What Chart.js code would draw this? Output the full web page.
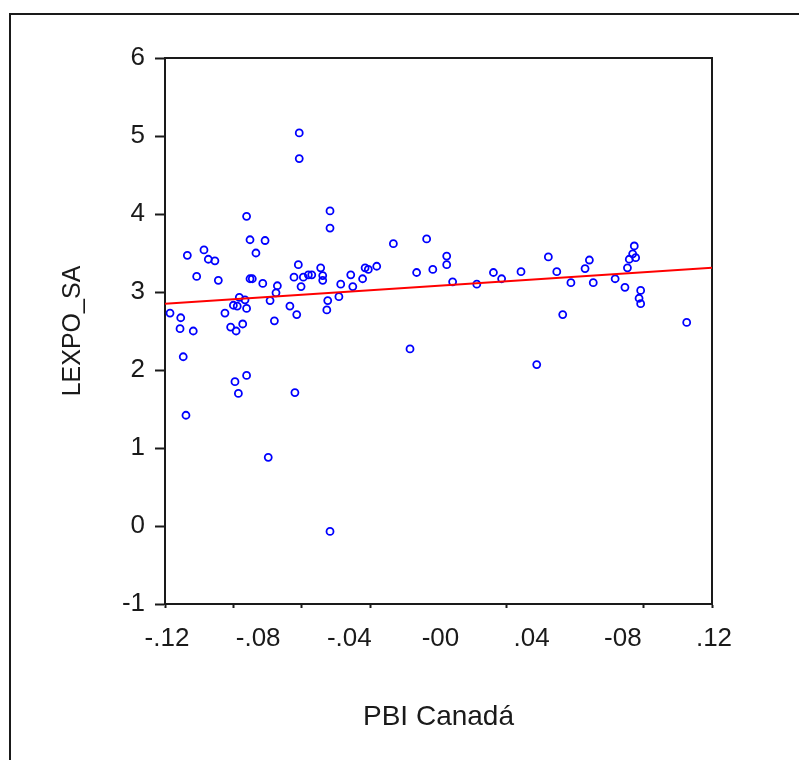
<!DOCTYPE html>
<html>
<head>
<meta charset="utf-8">
<script src="https://cdn.jsdelivr.net/npm/chart.js@4.4.1/dist/chart.umd.min.js"></script>
<style>
  body { margin: 0; background: #fff; }
</style>
</head>
<body>
<canvas id="scatter" width="799" height="760"></canvas>
<script>
// PBI Canadá (x) against LEXPO_SA (y)
const pbiCanada = [
  -0.0842, -0.0476, -0.0476, -0.0827, -0.0761, -0.1102, -0.1029, -0.1010, -0.0981, -0.0801,
  -0.1061, -0.0966, -0.0827, -0.0817, -0.0771, -0.0615, -0.0634, -0.0593, -0.0571, -0.0556,
  -0.0517, -0.0508, -0.0508, -0.0603, -0.0707, -0.0713, -0.0385, -0.0429, -0.0376, -0.0333,
  -0.0322, -0.0308, -0.0874, -0.0849, -0.0739, -0.0437, -0.0486, -0.0490, -0.1178, -0.1131,
  -0.0900, -0.0883, -0.0842, -0.0937, -0.0652, -0.0622, -0.1134, -0.1076, -0.0912, -0.0888,
  -0.0859, -0.0720, -0.1120, -0.0842, -0.0893, -0.0878, -0.0630, -0.1108, -0.0747, -0.0476,
  -0.0611, -0.0611, -0.0198, -0.0052, -0.0271, -0.0096, -0.0025, 0.0036, 0.0036, 0.0062,
  0.0168, 0.0241, 0.0277, 0.0362, 0.0482, 0.0519, 0.0545, 0.0581, -0.0125, 0.0431,
  0.0662, 0.0643, 0.0679, 0.0775, 0.0818, 0.0829, 0.0837, 0.0852, 0.0859, 0.0865,
  0.0887, 0.0880, 0.0887, 0.1089
];
const lexpoSA = [
  3.97, 4.04, 3.82, 3.67, 3.66, 3.47, 3.54, 3.42, 3.40, 3.50,
  3.20, 3.15, 3.17, 3.17, 3.11, 3.35, 3.19, 3.19, 3.22, 3.22,
  3.31, 3.21, 3.15, 3.07, 3.08, 2.99, 3.22, 3.10, 3.07, 3.17,
  3.31, 3.29, 2.93, 2.90, 2.89, 2.94, 2.89, 2.77, 2.73, 2.67,
  2.83, 2.82, 2.79, 2.73, 2.82, 2.71, 2.53, 2.50, 2.55, 2.50,
  2.59, 2.63, 2.17, 1.93, 1.85, 1.70, 1.71, 1.42, 0.88, -0.07,
  5.04, 4.71, 3.62, 3.68, 3.33, 3.25, 3.29, 3.46, 3.35, 3.13,
  3.10, 3.25, 3.17, 3.26, 3.45, 3.26, 2.71, 3.12, 2.27, 2.07,
  3.41, 3.30, 3.12, 3.17, 3.06, 3.31, 3.42, 3.49, 3.59, 3.44,
  3.02, 2.92, 2.85, 2.61
];

// fitted line, ends of the x range
const fitX = [-0.12, 0.12];
const fitY = [2.85, 3.31];

// x axis: small tick marks where the picture shows them, labels every .04 (text as printed)
const xMarkValues = [-0.12, -0.09, -0.06, -0.03, 0.03, 0.09, 0.12];
const xLabelValues = [-0.12, -0.08, -0.04, 0, 0.04, 0.08, 0.12];
const xLabelText = ['-.12', '-.08', '-.04', '-00', '.04', '-08', '.12'];

const near = (a, b) => Math.abs(a - b) < 1e-9;
const ink = '#1a1a1a';

const framePlugin = {
  id: 'frame',
  beforeDraw(chart) {
    const c = chart.ctx;
    c.save();
    c.fillStyle = '#fff';
    c.fillRect(0, 0, chart.width, chart.height);
    c.fillStyle = ink;
    c.fillRect(9, 13, 2, chart.height - 13);
    c.fillRect(9, 13, chart.width - 9, 2);
    c.restore();
  },
  beforeDatasetsDraw(chart) {
    const a = chart.chartArea;
    const c = chart.ctx;
    c.save();
    c.strokeStyle = ink;
    c.lineWidth = 2;
    c.strokeRect(a.left, a.top, a.right - a.left, a.bottom - a.top);
    c.restore();
  }
};

new Chart(document.getElementById('scatter'), {
  type: 'scatter',
  data: {
    datasets: [{
      label: 'LEXPO_SA',
      data: pbiCanada.map((x, i) => ({ x: x, y: lexpoSA[i] })),
      pointStyle: 'circle',
      pointRadius: 3.5,
      borderWidth: 1.8,
      borderColor: '#0000ff',
      backgroundColor: 'rgba(0,0,0,0)',
      order: 1
    }, {
      type: 'line',
      label: 'fit',
      data: fitX.map((x, i) => ({ x: x, y: fitY[i] })),
      borderColor: '#ff0000',
      borderWidth: 2,
      pointRadius: 0,
      fill: false,
      order: 0
    }]
  },
  options: {
    responsive: false,
    animation: false,
    events: [],
    layout: { padding: { left: 40, top: 58, right: 87, bottom: 0 } },
    plugins: {
      legend: { display: false },
      tooltip: { enabled: false }
    },
    scales: {
      x: {
        type: 'linear',
        min: -0.12,
        max: 0.12,
        afterBuildTicks: s => {
          const vals = xMarkValues.concat(xLabelValues.filter(v => !xMarkValues.some(m => near(m, v))));
          vals.sort((a, b) => a - b);
          s.ticks = vals.map(v => ({ value: v }));
        },
        afterFit: s => { s.height = 156; },
        grid: {
          drawOnChartArea: false,
          tickLength: 4,
          tickWidth: 2,
          tickColor: ctx => (ctx.tick && xMarkValues.some(m => near(m, ctx.tick.value))) ? ink : 'rgba(0,0,0,0)'
        },
        border: { display: true, color: ink, width: 2 },
        ticks: {
          autoSkip: false,
          maxRotation: 0,
          padding: 15,
          labelOffset: 2,
          color: ink,
          font: { family: 'Liberation Sans, Arial, sans-serif', size: 26 },
          callback: v => {
            const i = xLabelValues.findIndex(l => near(l, v));
            return i >= 0 ? xLabelText[i] : '';
          }
        },
        title: {
          display: true,
          text: 'PBI Canadá',
          color: ink,
          font: { family: 'Liberation Sans, Arial, sans-serif', size: 28 },
          padding: { top: 0, bottom: 26 }
        }
      },
      y: {
        min: -1,
        max: 6,
        afterFit: s => { s.width = 125; },
        grid: {
          drawOnChartArea: false,
          tickLength: 10,
          tickWidth: 2,
          tickColor: ink
        },
        border: { display: true, color: ink, width: 2 },
        ticks: {
          stepSize: 1,
          padding: 10,
          color: ink,
          font: { family: 'Liberation Sans, Arial, sans-serif', size: 26 }
        },
        title: {
          display: true,
          text: 'LEXPO_SA',
          color: ink,
          font: { family: 'Liberation Sans, Arial, sans-serif', size: 25 },
          padding: { top: 18, bottom: 0 }
        }
      }
    }
  },
  plugins: [framePlugin]
});
</script>
</body>
</html>
